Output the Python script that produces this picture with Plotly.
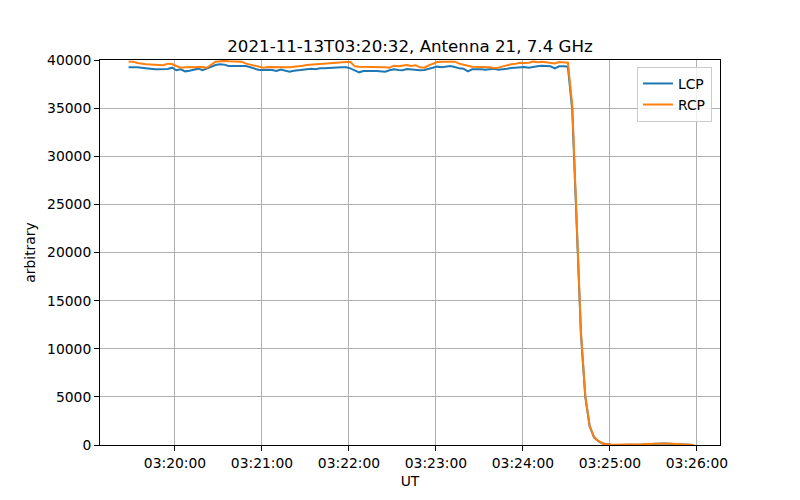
import pandas as pd
import plotly.graph_objects as go

title = "2021-11-13T03:20:32, Antenna 21, 7.4 GHz"
start_time = "2021-11-13 03:19:28"
sample_seconds = 3

lcp = [
    39240, 39270, 39240, 39200, 39130, 39060, 39030, 39030, 39060, 39060, 39200,
    38930, 39030, 38820, 38890, 38960, 39100, 38930, 39100, 39310, 39480,
    39550, 39520, 39380, 39380, 39380, 39380, 39380, 39240, 39060, 38960,
    38960, 39000, 38960, 38860, 39000, 38890, 38790, 38890, 38960, 39000,
    39030, 39100, 39030, 39130, 39130, 39170, 39200, 39240, 39240, 39240,
    39130, 38930, 38720, 38860, 38890, 38860, 38860, 38820, 38790, 38930,
    39030, 38960, 38930, 39060, 39000, 38960, 38930, 38960, 39100, 39240,
    39310, 39240, 39310, 39380, 39270, 39130, 39100, 38820, 39030, 39060,
    39030, 39000, 39030, 39100, 39000, 39030, 39100, 39170, 39200, 39270,
    39270, 39200, 39310, 39340, 39410, 39380, 39340, 39130, 39340, 39340,
    39310,
    34800, 23000, 11500, 5000, 1950, 800, 400, 150, 50, 20,
    10, 10, 10, 20, 30, 40, 60, 90, 120, 140,
    150, 150, 140, 130, 110, 80, 50, 20, 0,
]

rcp = [
    39830, 39830, 39690, 39580, 39550, 39520, 39480, 39480, 39450, 39620, 39580,
    39380, 39200, 39240, 39240, 39270, 39310, 39270, 39200, 39550, 39830,
    39860, 39900, 39860, 39830, 39830, 39830, 39620, 39520, 39450, 39340,
    39200, 39270, 39270, 39240, 39200, 39240, 39240, 39310, 39340, 39410,
    39480, 39520, 39550, 39580, 39580, 39650, 39720, 39760, 39760, 39790,
    39790, 39340, 39310, 39310, 39310, 39270, 39270, 39240, 39240, 39200,
    39410, 39340, 39380, 39480, 39380, 39450, 39240, 39200, 39450, 39650,
    39790, 39830, 39830, 39860, 39830, 39620, 39480, 39410, 39310, 39310,
    39310, 39310, 39240, 39170, 39200, 39340, 39480, 39550, 39620, 39720,
    39690, 39720, 39830, 39760, 39830, 39790, 39760, 39650, 39790, 39790,
    39720,
    35300, 23300, 11700, 5100, 2000, 850, 420, 160, 60, 25,
    15, 15, 15, 25, 35, 50, 70, 100, 130, 150,
    160, 160, 150, 140, 120, 90, 60, 25, 0,
]

times = pd.date_range(start=start_time, periods=len(lcp), freq=f"{sample_seconds}s")

x_tick_labels = ["03:20:00", "03:21:00", "03:22:00", "03:23:00", "03:24:00", "03:25:00", "03:26:00"]
x_tick_vals = ["2021-11-13 " + t for t in x_tick_labels]
x_range = ["2021-11-13 03:19:08.3", "2021-11-13 03:26:15.9"]
y_ticks = [0, 5000, 10000, 15000, 20000, 25000, 30000, 35000, 40000]

font = "DejaVu Sans"
tick_size = 13.89

fig = go.Figure()
fig.add_trace(go.Scatter(x=times, y=lcp, mode="lines", name="LCP",
                         line=dict(color="#1f77b4", width=2)))
fig.add_trace(go.Scatter(x=times, y=rcp, mode="lines", name="RCP",
                         line=dict(color="#ff7f0e", width=2)))

axis_common = dict(
    showline=True, linecolor="black", linewidth=1, mirror=True,
    ticks="outside", ticklen=5, tickwidth=1, tickcolor="black",
    showgrid=True, gridcolor="#b0b0b0", gridwidth=1,
    zeroline=False,
    tickfont=dict(family=font, size=tick_size, color="black"),
)

fig.update_layout(
    width=800, height=500,
    margin=dict(l=92, r=88, t=52, b=63, autoexpand=False),
    paper_bgcolor="white", plot_bgcolor="white",
    font=dict(family=font, color="black"),
    title=dict(text=title, x=0.5025, xanchor="center", y=0.913, yanchor="bottom",
               font=dict(family=font, size=16.67, color="black")),
    xaxis=dict(range=x_range, tickvals=x_tick_vals, ticktext=x_tick_labels,
               title=dict(text="UT", font=dict(family=font, size=tick_size), standoff=6),
               **axis_common),
    yaxis=dict(range=[0, 40000], tickvals=y_ticks, ticktext=[str(v) for v in y_ticks],
               title=dict(text="arbitrary", font=dict(family=font, size=tick_size), standoff=8),
               **axis_common),
    legend=dict(x=0.987, y=0.982, xanchor="right", yanchor="top",
                bgcolor="rgba(255,255,255,0.8)", bordercolor="#cccccc", borderwidth=1,
                font=dict(family=font, size=tick_size, color="black"),
                itemwidth=30, tracegroupgap=0),
    showlegend=True,
)

fig.write_html("out.html")
